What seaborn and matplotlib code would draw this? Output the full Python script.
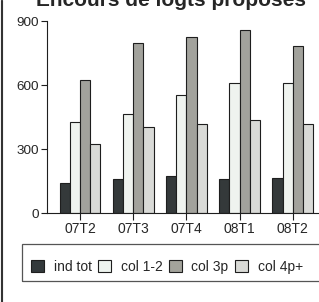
import matplotlib
matplotlib.use("Agg")
import matplotlib.pyplot as plt
import seaborn as sns
import pandas as pd
from matplotlib.patches import Rectangle, Patch
from matplotlib.lines import Line2D

# ---- data ----
categories = ["07T2", "07T3", "07T4", "08T1", "08T2"]
series = ["ind tot", "col 1-2", "col 3p", "col 4p+"]
ind_tot = [143, 159, 173, 159, 164]
col_1_2 = [428, 467, 553, 609, 609]
col_3p = [625, 795, 823, 858, 781]
col_4p = [326, 405, 420, 437, 417]
yticks = [0, 300, 600, 900]
title = "Encours de logts proposés"
colors = ["#33393b", "#eef4ef", "#a3a39b", "#d9dad6"]

rows = []
for s, vals in zip(series, [ind_tot, col_1_2, col_3p, col_4p]):
    for c, v in zip(categories, vals):
        rows.append({"cat": c, "series": s, "value": v})
df = pd.DataFrame(rows)

sns.set_style("white")
plt.rcParams["font.family"] = ["Liberation Sans", "DejaVu Sans"]

W, H = 319, 302
fig = plt.figure(figsize=(W / 100, H / 100), dpi=100)
ax = fig.add_axes([47 / W, 1 - 213.3 / H, 1 - 47 / W, (213.3 - 21) / H])

sns.barplot(data=df, x="cat", y="value", hue="series", order=categories,
            hue_order=series, palette=colors, width=0.77, gap=0,
            edgecolor="#1e1e1e", linewidth=0.8, legend=False, ax=ax)

ax.set_xlim(-0.62, 4.49)
ax.set_ylim(0, 900)
ax.set_yticks(yticks)
ax.set_yticklabels([str(t) for t in yticks], fontsize=9.7)
ax.set_xlabel("")
ax.set_ylabel("")
ax.tick_params(axis="x", labelsize=10, length=5, width=0.8, color="#1e1e1e",
               direction="out", pad=1, bottom=True)
ax.tick_params(axis="y", length=4, width=0.8, color="#1e1e1e",
               direction="out", pad=2, left=True)
for side in ["top", "right"]:
    ax.spines[side].set_visible(False)
for side in ["left", "bottom"]:
    ax.spines[side].set_color("#1e1e1e")
    ax.spines[side].set_linewidth(0.8)
ax.set_facecolor("white")

# title (partially cropped at top, as in the reference)
fig.text(171 / W, 1 - 6.5 / H, title, ha="center", va="baseline",
         fontsize=15, fontweight="bold")

# left frame lines
fig.add_artist(Line2D([0.5 / W, 0.5 / W], [0, 1], color="#333333", lw=0.8))
fig.add_artist(Line2D([2.5 / W, 2.5 / W], [0, 1], color="#333333", lw=0.8))

# legend box
fig.add_artist(Rectangle((22 / W, 1 - 281 / H), 310 / W, 37 / H,
                         transform=fig.transFigure, fill=False,
                         edgecolor="#555555", lw=0.9))
handles = [Patch(facecolor=c, edgecolor="#1e1e1e", linewidth=0.8) for c in colors]
fig.legend(handles, series, loc="center left", bbox_to_anchor=(31 / W, 1 - 267 / H),
           ncol=4, frameon=False, fontsize=10, handlelength=0.95, handleheight=0.95,
           handletextpad=0.67, columnspacing=0.47, borderpad=0, borderaxespad=0)

fig.savefig("out.png", dpi=100, facecolor="white")
